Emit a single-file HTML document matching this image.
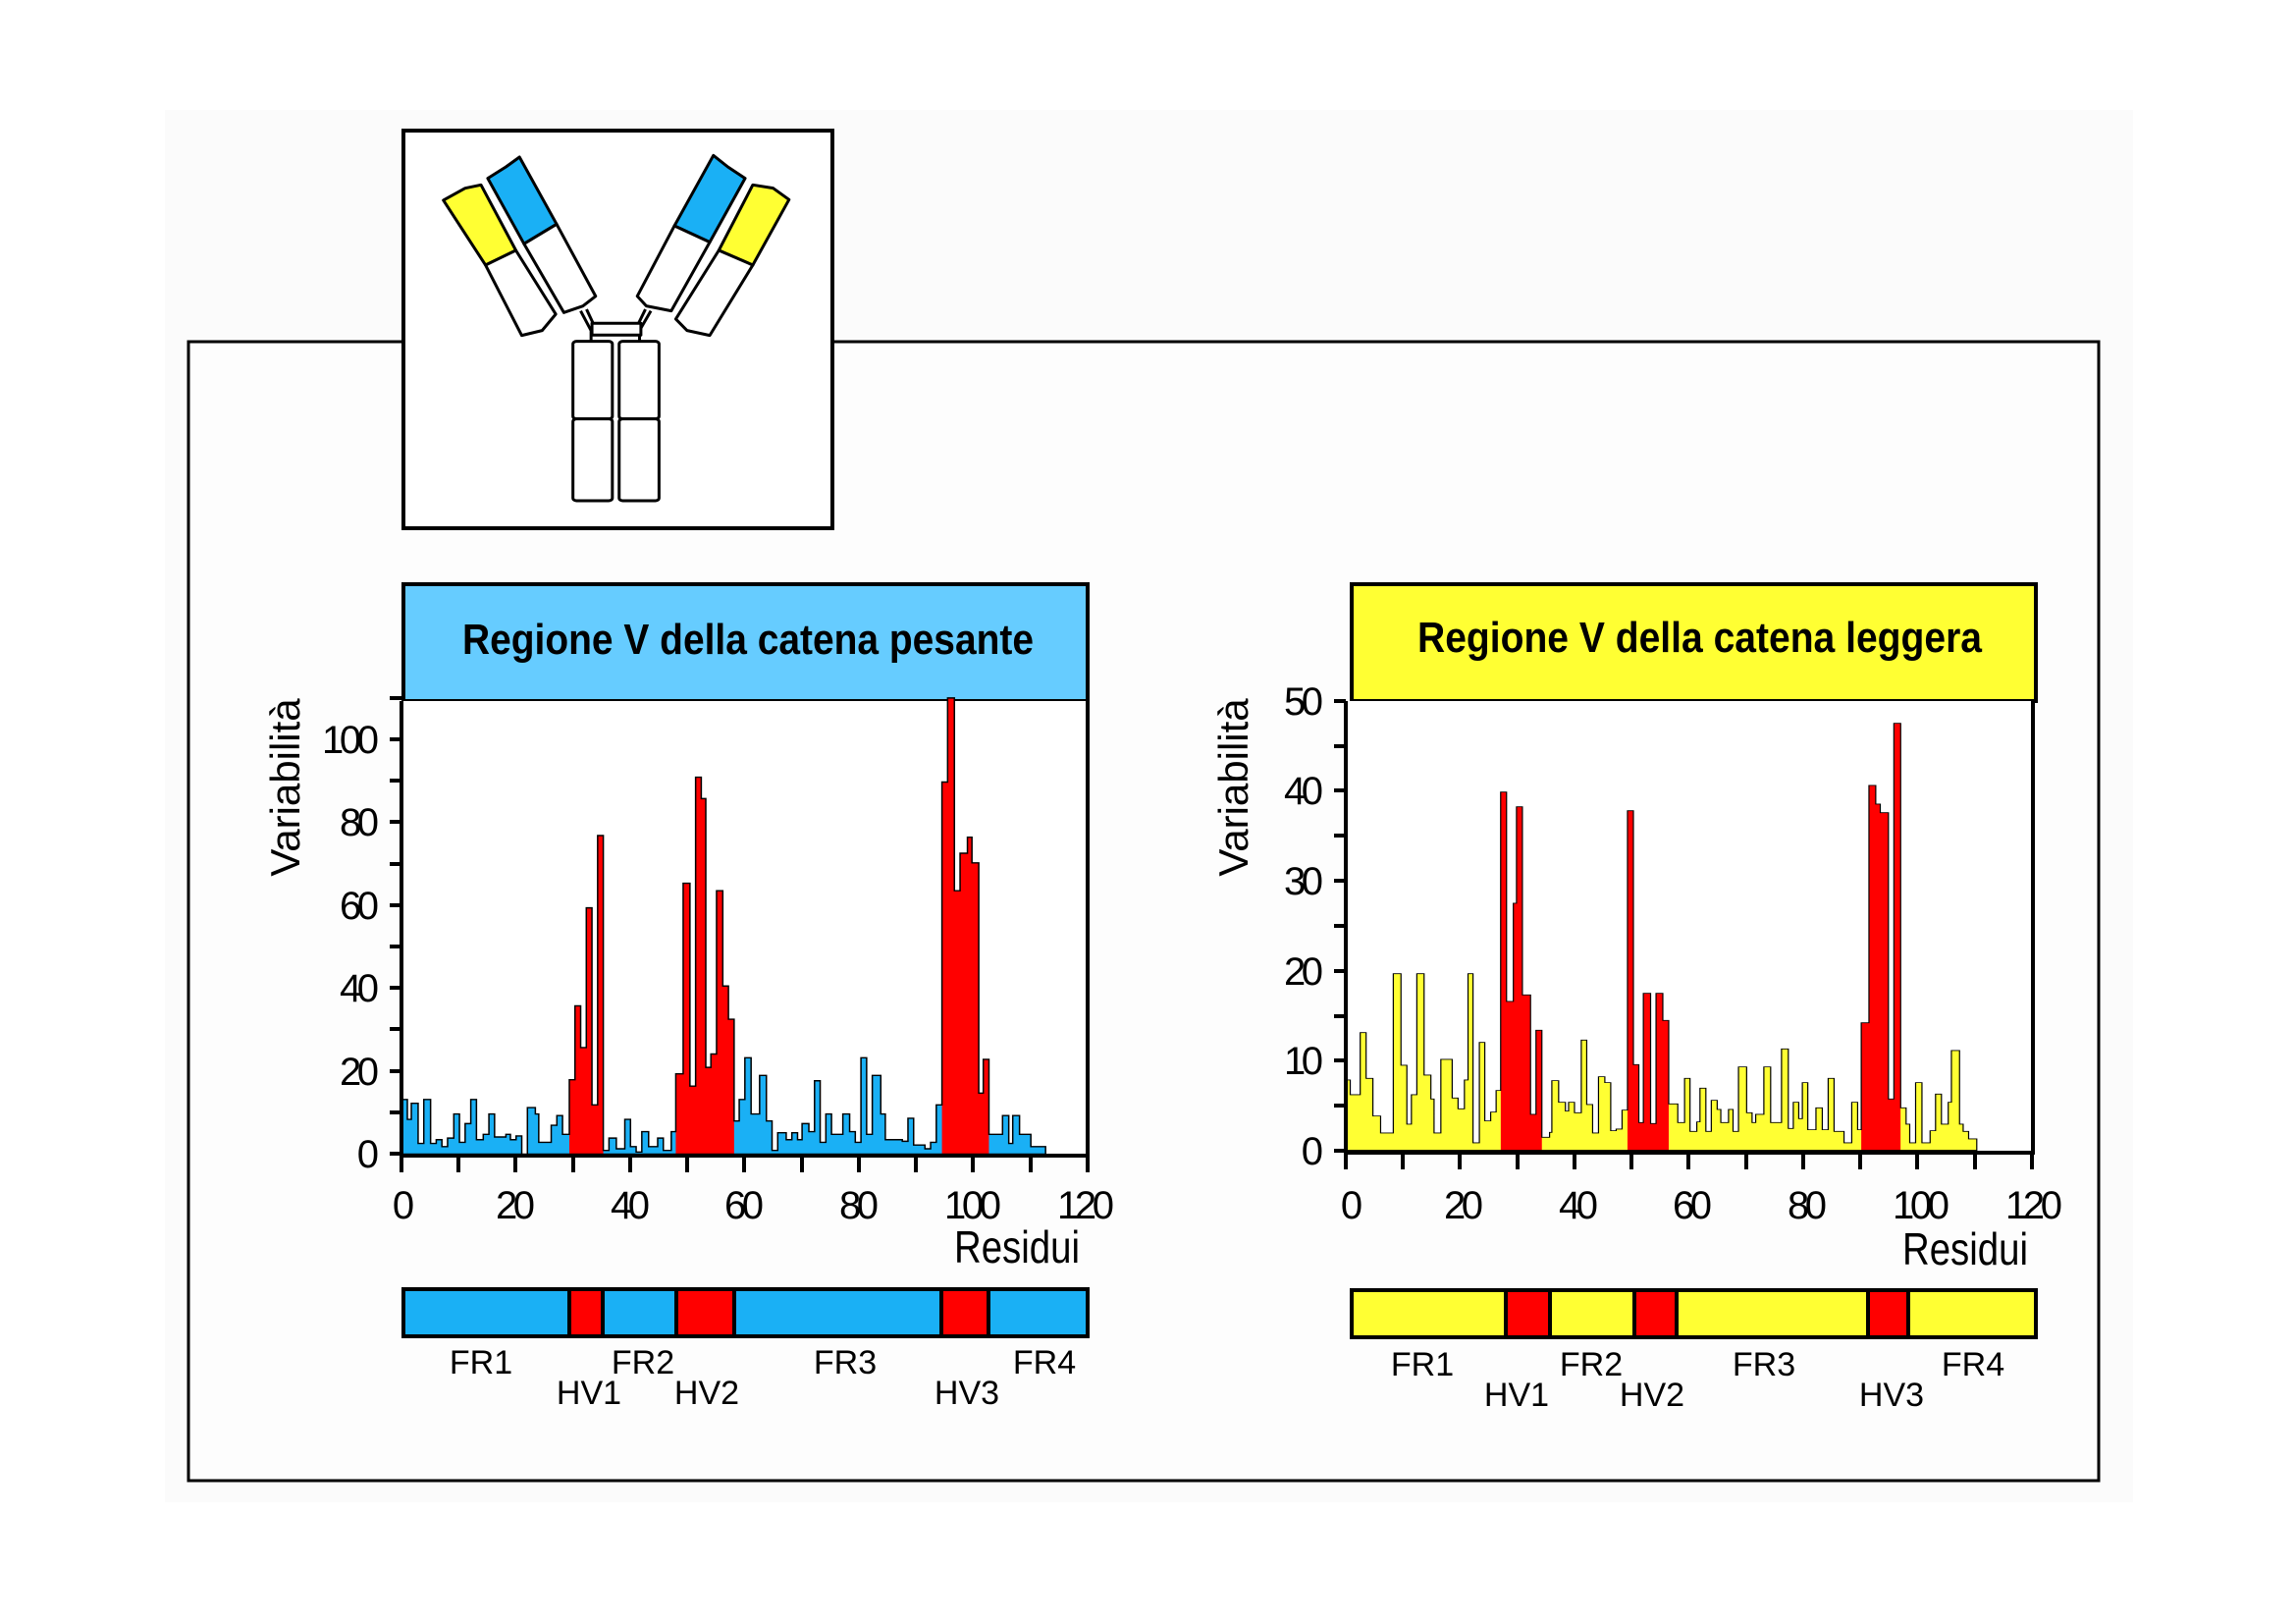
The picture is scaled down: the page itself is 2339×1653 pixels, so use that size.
<!DOCTYPE html>
<html><head><meta charset="utf-8"><style>
html,body{margin:0;padding:0;background:#fff;}
svg{display:block;}
.n{font-family:"Liberation Sans Narrow","Liberation Sans",sans-serif;fill:#000;}
.b{font-family:"Liberation Sans Narrow","Liberation Sans",sans-serif;font-weight:bold;fill:#000;}
.r{font-family:"Liberation Sans",sans-serif;fill:#000;}
</style></head><body>
<svg width="2339" height="1653" viewBox="0 0 2339 1653" xmlns="http://www.w3.org/2000/svg">
<defs>
<clipPath id="cl"><rect x="572" y="0" width="60" height="1100"/><rect x="760" y="0" width="103" height="1100"/><rect x="1230" y="0" width="83" height="1100"/></clipPath>
<clipPath id="cr"><rect x="357" y="0" width="91" height="1420"/><rect x="637" y="0" width="91" height="1420"/><rect x="1153" y="0" width="87" height="1420"/></clipPath>
<path id="lp" d="M276,1092 V990 H286 V1027 H293 V997 H305 V1072 H315 V990 H327 V1072 H337 V1065 H347 V1078 H357 V1062 H368 V1017 H378 V1070 H388 V1035 H398 V990 H408 V1065 H420 V1055 H430 V1017 H440 V1060 H460 V1055 H468 V1065 H478 V1058 H488 V1092 H498 V1005 H512 V1017 H518 V1070 H540 V1038 H550 V1020 H560 V1055 H572 V953 H582 V815 H592 V893 H602 V632 H612 V1000 H622 V497 H632 V1085 H642 V1062 H655 V1082 H670 V1027 H680 V1078 H690 V1088 H700 V1050 H712 V1078 H728 V1062 H738 V1085 H752 V1050 H760 V942 H773 V586 H785 V965 H795 V388 H805 V428 H813 V930 H822 V905 H832 V600 H843 V778 H853 V840 H863 V1030 H872 V990 H882 V912 H893 V1017 H908 V945 H920 V1030 H930 V1085 H940 V1052 H955 V1065 H965 V1052 H975 V1065 H983 V1035 H995 V1050 H1005 V955 H1015 V1070 H1025 V1017 H1035 V1055 H1055 V1017 H1067 V1050 H1077 V1070 H1087 V912 H1097 V1055 H1107 V945 H1122 V1017 H1130 V1065 H1160 V1068 H1170 V1025 H1180 V1075 H1200 V1082 H1210 V1070 H1220 V1000 H1230 V397 H1240 V240 H1252 V600 H1262 V530 H1275 V500 H1283 V548 H1295 V978 H1303 V915 H1313 V1055 H1337 V1020 H1348 V1072 H1355 V1020 H1367 V1055 H1387 V1078 H1413 V1092 Z"/>
<path id="rp" d="M13,1415 V1200 H25 V1245 H47 V1055 H60 V1195 H75 V1310 H92 V1362 H120 V875 H137 V1155 H150 V1335 H160 V1245 H172 V875 H188 V1185 H203 V1258 H210 V1362 H225 V1137 H250 V1255 H263 V1288 H277 V1200 H285 V875 H296 V1392 H310 V1085 H322 V1325 H335 V1298 H347 V1232 H357 V320 H370 V960 H385 V660 H392 V365 H405 V940 H423 V1305 H435 V1048 H448 V1375 H465 V1360 H470 V1202 H485 V1268 H500 V1295 H507 V1268 H520 V1300 H535 V1078 H547 V1275 H560 V1362 H573 V1190 H587 V1208 H600 V1355 H612 V1350 H625 V1292 H637 V377 H650 V1153 H662 V1330 H672 V935 H688 V1333 H700 V935 H715 V1018 H728 V1273 H748 V1330 H763 V1195 H775 V1357 H790 V1328 H797 V1225 H810 V1357 H822 V1262 H835 V1290 H843 V1330 H860 V1290 H870 V1357 H882 V1160 H900 V1300 H912 V1330 H920 V1305 H938 V1160 H953 V1330 H977 V1105 H992 V1348 H1003 V1268 H1015 V1318 H1023 V1208 H1035 V1352 H1053 V1285 H1067 V1352 H1080 V1195 H1093 V1357 H1115 V1392 H1132 V1268 H1145 V1352 H1153 V1025 H1170 V300 H1185 V357 H1195 V383 H1213 V1258 H1225 V110 H1240 V1285 H1252 V1335 H1260 V1392 H1273 V1208 H1287 V1392 H1305 V1355 H1317 V1243 H1330 V1335 H1345 V1268 H1352 V1110 H1370 V1335 H1378 V1357 H1390 V1380 H1408 V1415 Z"/>
</defs>
<rect x="168" y="112" width="2005" height="1418" fill="#fbfbfb"/>
<rect x="192" y="348" width="1946" height="1160" fill="#fdfdfd" stroke="#000" stroke-width="3"/>

<!-- antibody -->
<rect x="411" y="133" width="437" height="405" fill="#fff" stroke="#000" stroke-width="4"/>
<g transform="translate(400,120) scale(0.4615,0.3333)" stroke="#000" stroke-width="3" stroke-linejoin="round">
<polygon vector-effect="non-scaling-stroke" points="112,252 160,215 195,205 272,405 205,450" fill="#ffff33"/>
<polygon vector-effect="non-scaling-stroke" points="205,450 272,405 360,600 330,650 285,665" fill="#fff"/>
<polygon vector-effect="non-scaling-stroke" points="210,185 250,150 280,120 362,325 290,385" fill="#1ab0f5"/>
<polygon vector-effect="non-scaling-stroke" points="290,385 362,325 448,545 420,575 378,595" fill="#fff"/>
<polygon vector-effect="non-scaling-stroke" points="708,115 740,150 778,185 700,380 622,330" fill="#1ab0f5"/>
<polygon vector-effect="non-scaling-stroke" points="622,330 700,380 615,590 560,575 540,545" fill="#fff"/>
<polygon vector-effect="non-scaling-stroke" points="795,205 840,215 875,250 795,450 720,405" fill="#ffff33"/>
<polygon vector-effect="non-scaling-stroke" points="720,405 795,450 700,665 650,650 625,615" fill="#fff"/>
<path vector-effect="non-scaling-stroke" d="M415,590 L438,650 V683 M428,585 L450,650 M570,590 L545,650 V683 M558,585 L535,650" fill="none"/>
<rect vector-effect="non-scaling-stroke" x="440" y="628" width="108" height="36" fill="#fff"/>
<rect vector-effect="non-scaling-stroke" x="398" y="683" width="87" height="237" rx="8" fill="#fff"/>
<rect vector-effect="non-scaling-stroke" x="398" y="920" width="87" height="250" rx="8" fill="#fff"/>
<rect vector-effect="non-scaling-stroke" x="500" y="683" width="88" height="237" rx="8" fill="#fff"/>
<rect vector-effect="non-scaling-stroke" x="500" y="920" width="88" height="250" rx="8" fill="#fff"/>
</g>

<!-- LEFT CHART -->
<rect x="411" y="595" width="697" height="119" fill="#66ccff" stroke="#000" stroke-width="4"/>
<text class="b" x="471" y="666" font-size="44" textLength="582" lengthAdjust="spacingAndGlyphs">Regione V della catena pesante</text>
<rect x="409" y="714" width="699" height="461" fill="#fff"/>
<g transform="translate(250,580) scale(0.5769,0.5453)">
<use href="#lp" fill="#1ab0f5"/>
<use href="#lp" fill="#ff0000" clip-path="url(#cl)"/>
<use href="#lp" fill="none" stroke="#000" stroke-width="2.6" vector-effect="non-scaling-stroke"/>
</g>
<g stroke="#000" stroke-width="4" fill="none">
<path d="M409,714 V1177 H1108 V714"/>
<path d="M397,1175H409 M397,1133H409 M397,1091H409 M397,1048H409 M397,1006H409 M397,964H409 M397,922H409 M397,880H409 M397,837H409 M397,795H409 M397,753H409 M397,711H409"/>
<path d="M409,1175V1194 M467,1175V1194 M525,1175V1194 M584,1175V1194 M642,1175V1194 M700,1175V1194 M758,1175V1194 M817,1175V1194 M875,1175V1194 M933,1175V1194 M991,1175V1194 M1050,1175V1194 M1108,1175V1194"/>
</g>
<g class="n" font-size="40" text-anchor="end">
<text x="386" y="1189">0</text><text x="386" y="1105" textLength="40">20</text><text x="386" y="1020" textLength="40">40</text><text x="386" y="936" textLength="40">60</text><text x="386" y="851" textLength="40">80</text><text x="386" y="767" textLength="58">100</text>
</g>
<g class="n" font-size="40" text-anchor="middle">
<text x="411" y="1241">0</text><text x="525" y="1241" textLength="40">20</text><text x="642" y="1241" textLength="40">40</text><text x="758" y="1241" textLength="40">60</text><text x="875" y="1241" textLength="40">80</text><text x="991" y="1241" textLength="58">100</text><text x="1106" y="1241" textLength="58">120</text>
</g>
<text class="n" x="972" y="1286" font-size="46" textLength="128" lengthAdjust="spacingAndGlyphs">Residui</text>
<text class="r" transform="translate(305,802) rotate(-90)" font-size="42" text-anchor="middle">Variabilità</text>
<g stroke="#000" stroke-width="4">
<rect x="411" y="1313" width="697" height="48" fill="#1ab0f5"/>
<rect x="580" y="1313" width="34" height="48" fill="#ff0000"/>
<rect x="689" y="1313" width="59" height="48" fill="#ff0000"/>
<rect x="959" y="1313" width="48" height="48" fill="#ff0000"/>
</g>
<g class="n" font-size="34" text-anchor="middle">
<text x="490" y="1399">FR1</text><text x="600" y="1430">HV1</text><text x="655" y="1399">FR2</text><text x="720" y="1430">HV2</text><text x="861" y="1399">FR3</text><text x="985" y="1430">HV3</text><text x="1064" y="1399">FR4</text>
</g>

<!-- RIGHT CHART -->
<g transform="translate(-6,0)">
<rect x="1383" y="595" width="697" height="119" fill="#ffff33" stroke="#000" stroke-width="4"/>
<text class="b" x="1450" y="664" font-size="44" textLength="575" lengthAdjust="spacingAndGlyphs">Regione V della catena leggera</text>
<rect x="1377" y="714" width="699" height="458" fill="#fff"/>
<g transform="translate(1370,700) scale(0.4615,0.3333)">
<use href="#rp" fill="#ffff33"/>
<use href="#rp" fill="#ff0000" clip-path="url(#cr)"/>
<use href="#rp" fill="none" stroke="#000" stroke-width="2.6" vector-effect="non-scaling-stroke"/>
</g>
<g stroke="#000" stroke-width="4" fill="none">
<path d="M1377,714 V1174 H2077 V714"/>
<path d="M1365,1172H1377 M1365,1126H1377 M1365,1080H1377 M1365,1035H1377 M1365,989H1377 M1365,943H1377 M1365,897H1377 M1365,851H1377 M1365,805H1377 M1365,760H1377 M1365,714H1377"/>
<path d="M1377,1172V1191 M1435,1172V1191 M1493,1172V1191 M1552,1172V1191 M1610,1172V1191 M1668,1172V1191 M1726,1172V1191 M1785,1172V1191 M1843,1172V1191 M1901,1172V1191 M1959,1172V1191 M2018,1172V1191 M2076,1172V1191"/>
</g>
<g class="n" font-size="40" text-anchor="end">
<text x="1354" y="1186">0</text><text x="1354" y="1094" textLength="40">10</text><text x="1354" y="1003" textLength="40">20</text><text x="1354" y="911" textLength="40">30</text><text x="1354" y="819" textLength="40">40</text><text x="1354" y="728" textLength="40">50</text>
</g>
<g class="n" font-size="40" text-anchor="middle">
<text x="1383" y="1241">0</text><text x="1497" y="1241" textLength="40">20</text><text x="1614" y="1241" textLength="40">40</text><text x="1730" y="1241" textLength="40">60</text><text x="1847" y="1241" textLength="40">80</text><text x="1963" y="1241" textLength="58">100</text><text x="2078" y="1241" textLength="58">120</text>
</g>
<text class="n" x="1944" y="1288" font-size="46" textLength="128" lengthAdjust="spacingAndGlyphs">Residui</text>
<text class="r" transform="translate(1277,802) rotate(-90)" font-size="42" text-anchor="middle">Variabilità</text>
<g stroke="#000" stroke-width="4">
<rect x="1383" y="1314" width="697" height="48" fill="#ffff33"/>
<rect x="1540" y="1314" width="45" height="48" fill="#ff0000"/>
<rect x="1671" y="1314" width="43" height="48" fill="#ff0000"/>
<rect x="1909" y="1314" width="41" height="48" fill="#ff0000"/>
</g>
<g class="n" font-size="34" text-anchor="middle">
<text x="1455" y="1401">FR1</text><text x="1551" y="1432">HV1</text><text x="1627" y="1401">FR2</text><text x="1689" y="1432">HV2</text><text x="1803" y="1401">FR3</text><text x="1933" y="1432">HV3</text><text x="2016" y="1401">FR4</text>
</g>
</g>
</svg>
</body></html>
